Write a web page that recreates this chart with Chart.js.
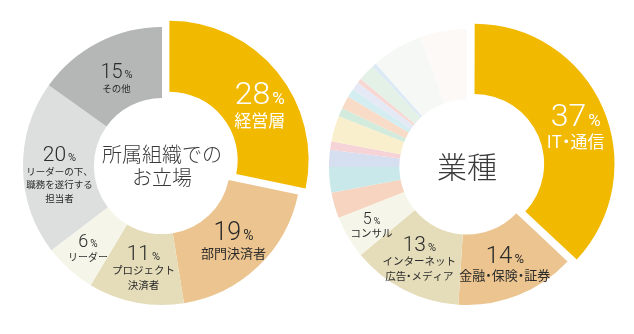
<!DOCTYPE html>
<html>
<head>
<meta charset="utf-8">
<script src="https://cdn.jsdelivr.net/npm/chart.js@4"></script>
<style>
  html, body { margin: 0; padding: 0; background: #fff; }
  body { width: 634px; height: 334px; position: relative; overflow: hidden; }
  .box { position: absolute; width: 316px; height: 316px; }
  #boxLeft { left: 4px; top: 8px; }
  #boxRight { left: 309px; top: 9px; }
</style>
</head>
<body>
<div class="box" id="boxLeft"><canvas id="chartLeft"></canvas></div>
<div class="box" id="boxRight"><canvas id="chartRight"></canvas></div>
<script>
// left: 所属組織でのお立場
const leftTitle = ['所属組織での', 'お立場'];
const leftCategories = [['経営層'], ['部門決済者'], ['プロジェクト', '決済者'], ['リーダー'], ['リーダーの下、', '職務を遂行する', '担当者'], ['その他']];
const leftValues = [28, 19, 11, 6, 20, 15];

// right: 業種 (small slices have no label in the picture)
const rightTitle = ['業種'];
const rightCategories = [['IT・通信'], ['金融・保険・証券'], ['インターネット', '広告・メディア'], ['コンサル'],
  [], [], [], [], [], [], [], [], [], [], [], [], [], []];
const rightValues = [37, 14, 13, 5, 3, 3, 2, 1, 3, 1, 1.5, 1, 1, 0.5, 2, 0.5, 6, 5.5];

const leftColors = ['#F1B900', '#EBC48F', '#E5DDBA', '#F6F5E9', '#DDDEDE', '#B5B6B6'];
const rightColors = ['#F1B900', '#EBC48F', '#E5DDBA', '#F6F5E9',
  '#F7D4BF', '#C8E8E9', '#D6DFF0', '#F5D3D6', '#FAEFCC', '#D3EBDD', '#F8DCC7', '#D3EDF0',
  '#E5E8F5', '#F8D7D2', '#E3F1E6', '#DCEAF5', '#F5F8F4', '#FDF9F6'];

const NUM_FONT = 'Roboto, Lato, sans-serif';
const JP_FONT = '"Noto Sans CJK JP", "Noto Sans", sans-serif';

// draws a line centred on x, with the middle dot set narrow (like proportional japanese type)
function drawJP(ctx, text, x, y, size){
  const chars = Array.from(text);
  const widths = chars.map(ch => ch == '・' ? size * 0.5 : ctx.measureText(ch).width);
  const total = widths.reduce((a, b) => a + b, 0);
  let cx = x - total / 2;
  ctx.textAlign = 'center';
  chars.forEach((ch, k) => {
    ctx.fillText(ch, cx + widths[k] / 2, y);
    cx += widths[k];
  });
}

// label drawing inside each slice
const sliceLabels = {
  id: 'sliceLabels',
  afterDatasetsDraw(chart, args, opts) {
    const ctx = chart.ctx;
    const meta = chart.getDatasetMeta(0);
    const ds = chart.data.datasets[0];
    ctx.save();
    meta.data.forEach((arc, i) => {
      const lines = chart.data.labels[i];
      if (!lines || lines.length == 0) return;
      const p = arc.getProps(['x', 'y', 'startAngle', 'endAngle', 'innerRadius', 'outerRadius']);
      const shift = (arc.options.offset || 0) / 4;
      const mid = (p.startAngle + p.endAngle) / 2;
      const r = (p.innerRadius + p.outerRadius) / 2 + shift;
      const ax = p.x + Math.cos(mid) * r + opts.nudge[i][0];
      const ay = p.y + Math.sin(mid) * r + opts.nudge[i][1];

      const n = opts.numSize[i];
      const s = opts.textSize[i];
      const lh = s * 1.42;
      const blockH = 0.72 * n + 0.25 * n + (lines.length - 1) * lh + s;
      const top = ay - blockH / 2;
      const baseline = top + 0.72 * n;

      ctx.fillStyle = opts.color[i];
      // number + small %
      const num = String(ds.data[i]);
      ctx.font = '300 ' + n + 'px ' + NUM_FONT;
      const wNum = ctx.measureText(num).width;
      const pSize = Math.round(n * 0.54);
      ctx.font = '400 ' + pSize + 'px ' + NUM_FONT;
      const wPct = ctx.measureText('%').width;
      const gap = 2;
      let x0 = ax - (wNum + gap + wPct) / 2;
      ctx.textBaseline = 'alphabetic';
      ctx.textAlign = 'left';
      ctx.font = '300 ' + n + 'px ' + NUM_FONT;
      ctx.fillText(num, x0, baseline);
      ctx.font = '400 ' + pSize + 'px ' + NUM_FONT;
      ctx.fillText('%', x0 + wNum + gap, baseline);

      // category text
      ctx.font = s + 'px ' + JP_FONT;
      ctx.textBaseline = 'middle';
      let y = baseline + 0.25 * n + s / 2;
      lines.forEach(line => {
        drawJP(ctx, line, ax, y, s);
        y += lh;
      });
    });

    // title in the hole
    const c = meta.data[1].getProps(['x', 'y']);
    ctx.fillStyle = '#3a3a3a';
    ctx.font = '300 ' + opts.titleSize + 'px ' + JP_FONT;
    ctx.textAlign = 'center';
    ctx.textBaseline = 'middle';
    const tl = opts.title;
    const tlh = opts.titleSize * 1.15;
    tl.forEach((line, k) => {
      ctx.fillText(line, c.x, c.y + (k - (tl.length - 1) / 2) * tlh);
    });
    ctx.restore();
  }
};

function makeDoughnut(el, labels, values, colors, offsets, radius, labelOpts){
  return new Chart(el, {
    type: 'doughnut',
    data: {
      labels: labels,
      datasets: [{
        data: values,
        backgroundColor: colors,
        borderWidth: 0,
        offset: offsets,
        hoverOffset: 0
      }]
    },
    options: {
      responsive: true,
      maintainAspectRatio: false,
      animation: false,
      events: [],
      radius: radius,
      cutout: '49%',
      plugins: {
        legend: { display: false },
        tooltip: { enabled: false },
        sliceLabels: labelOpts
      }
    },
    plugins: [sliceLabels]
  });
}

makeDoughnut(document.getElementById('chartLeft'), leftCategories, leftValues, leftColors,
  [38, 0, 0, 0, 0, 0], 139, {
    title: leftTitle,
    titleSize: 20,
    numSize: [32, 25, 21, 18, 21, 20],
    textSize: [17, 13, 10.5, 10, 9.5, 9.5],
    color: ['#fff', '#2b2b2b', '#2b2b2b', '#2b2b2b', '#2b2b2b', '#2b2b2b'],
    nudge: [[10, 10], [0, 0], [1, 0], [-5, 5], [1, 7], [2, 4.5]]
  });

makeDoughnut(document.getElementById('chartRight'), rightCategories, rightValues, rightColors,
  rightValues.map((v, i) => i == 0 ? 32 : 0), 138, {
    title: rightTitle,
    titleSize: 30,
    numSize: [32, 24, 21, 16],
    textSize: [17, 13, 10.5, 10.5],
    color: ['#fff', '#2b2b2b', '#2b2b2b', '#2b2b2b'],
    nudge: [[7, 3.5], [0, 1], [-1, 0], [-7, 6]]
  });
</script>
</body>
</html>
